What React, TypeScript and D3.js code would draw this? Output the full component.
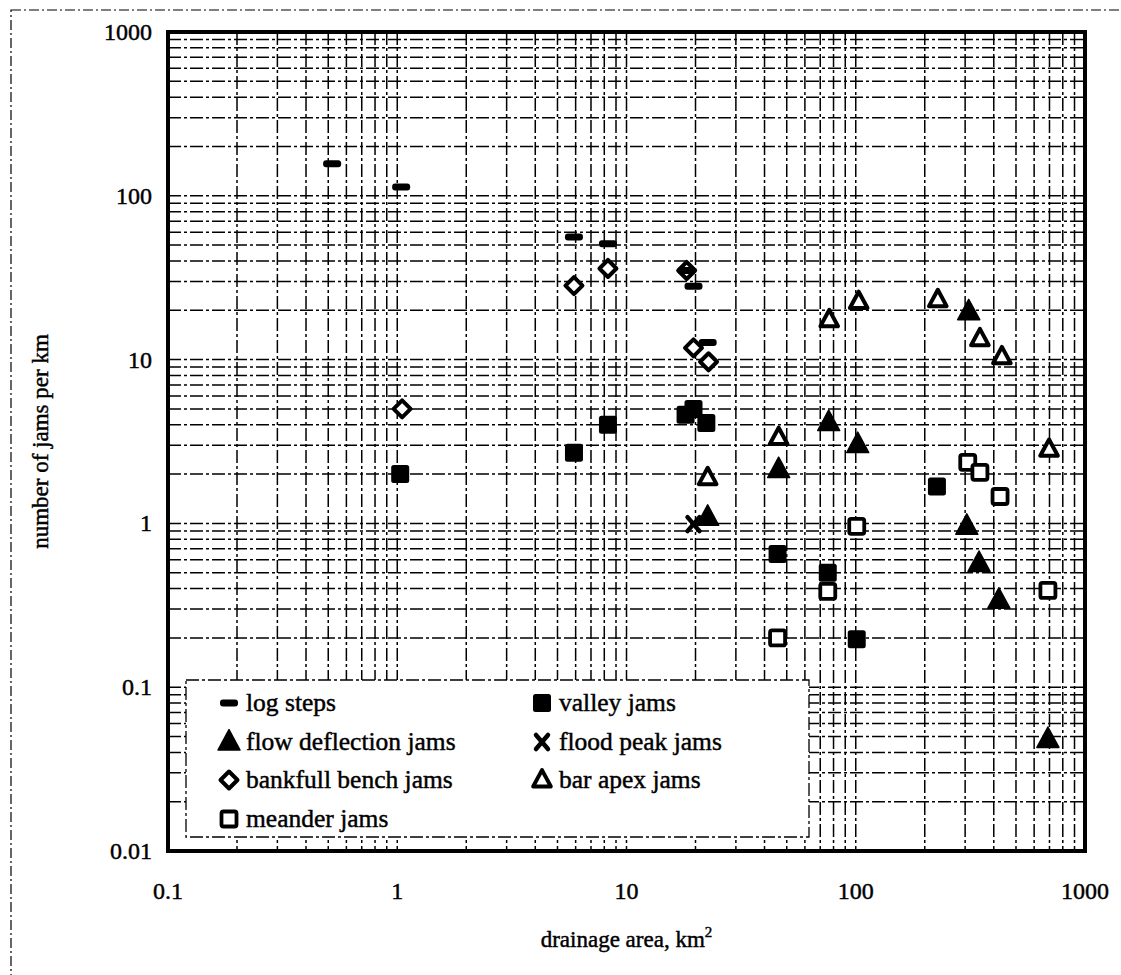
import React from 'react'
import * as d3 from 'd3'

// series (drainage area km2, jams per km)
const logStepsX = [0.52, 1.04, 5.9, 8.3, 18.3, 19.6, 22.6]
const logStepsY = [157, 113, 56, 51, 35, 28, 12.7]

const valleyX = [1.03, 5.9, 8.3, 18.1, 19.6, 22.3, 45.6, 75.5, 101, 226]
const valleyY = [2.0, 2.7, 4.0, 4.6, 5.0, 4.1, 0.65, 0.5, 0.196, 1.68]

const flowX = [22.6, 46.1, 76.2, 102, 311, 305, 345, 421, 689]
const flowY = [1.09, 2.13, 4.13, 3.03, 19.6, 0.96, 0.57, 0.34, 0.048]

const floodX = [19.6]
const floodY = [0.99]

const benchX = [1.05, 5.9, 8.3, 18.3, 19.6, 22.8]
const benchY = [5.0, 28.3, 36, 35, 11.8, 9.7]

const apexX = [22.6, 46.1, 76.6, 103, 228, 348, 434, 697]
const apexY = [1.9, 3.34, 17.5, 22.6, 23.2, 13.4, 10.4, 2.83]

const meanderX = [45.6, 75.5, 101, 308, 348, 426, 689]
const meanderY = [0.2, 0.385, 0.96, 2.36, 2.05, 1.46, 0.39]

const xTicks = [0.1, 1, 10, 100, 1000]
const yTicks = [0.01, 0.1, 1, 10, 100, 1000]
const xTickLabels = ['0.1', '1', '10', '100', '1000']
const yTickLabels = ['0.01', '0.1', '1', '10', '100', '1000']

const legendNames = ['log steps', 'valley jams', 'flow deflection jams', 'flood peak jams',
  'bankfull bench jams', 'bar apex jams', 'meander jams']

const W = 1121, H = 975
const margin = { left: 168, right: 1085, top: 32, bottom: 851 }
const font = '"Liberation Serif", "Times New Roman", Times, serif'
const dash = '13,3,3,3'

type Kind = 'step' | 'valley' | 'flow' | 'flood' | 'bench' | 'apex' | 'meander'

const Marker = ({ kind, x, y }: { kind: Kind, x: number, y: number }) => {
  const tri = (s: number) => `M${x},${y - s * 0.62} L${x + s * 0.55},${y + s * 0.4} L${x - s * 0.55},${y + s * 0.4} Z`
  switch (kind) {
    case 'step':
      return <rect x={x - 9} y={y - 3.5} width={18} height={7} rx={3} fill="#000" />
    case 'valley':
      return <rect x={x - 9} y={y - 9} width={18} height={18} rx={2.5} fill="#000" />
    case 'flow':
      return <path d={tri(20)} fill="#000" stroke="#000" strokeWidth={1.5} strokeLinejoin="round" />
    case 'apex':
      return <path d={tri(16)} fill="#fff" stroke="#000" strokeWidth={4} strokeLinejoin="round" />
    case 'bench':
      return <path d={`M${x},${y - 8.5} L${x + 8.5},${y} L${x},${y + 8.5} L${x - 8.5},${y} Z`}
        fill="#fff" stroke="#000" strokeWidth={4} strokeLinejoin="round" />
    case 'meander':
      return <rect x={x - 7.5} y={y - 7.5} width={15} height={15} rx={2} fill="#fff" stroke="#000" strokeWidth={3.8} />
    case 'flood':
      return <g stroke="#000" strokeWidth={4.5} strokeLinecap="round">
        <line x1={x - 6} y1={y - 7} x2={x + 6} y2={y + 7} />
        <line x1={x + 6} y1={y - 7} x2={x - 6} y2={y + 7} />
      </g>
  }
  return null
}

export default function App() {
  const x = d3.scaleLog().domain([0.1, 1000]).range([margin.left, margin.right])
  const y = d3.scaleLog().domain([0.01, 1000]).range([margin.bottom, margin.top])

  // every 1..9 multiple inside the decades
  const xGrid: number[] = []
  for (let e = -1; e < 3; e++) for (let m = 1; m < 10; m++) xGrid.push(m * Math.pow(10, e))
  const yGrid: number[] = []
  for (let e = -2; e < 3; e++) for (let m = 1; m < 10; m++) yGrid.push(m * Math.pow(10, e))

  const series: { kind: Kind, xs: number[], ys: number[] }[] = [
    { kind: 'bench', xs: benchX, ys: benchY },
    { kind: 'step', xs: logStepsX, ys: logStepsY },
    { kind: 'valley', xs: valleyX, ys: valleyY },
    { kind: 'meander', xs: meanderX, ys: meanderY },
    { kind: 'apex', xs: apexX, ys: apexY },
    { kind: 'flow', xs: flowX, ys: flowY },
    { kind: 'flood', xs: floodX, ys: floodY },
  ]

  const legendKinds: Kind[] = ['step', 'valley', 'flow', 'flood', 'bench', 'apex', 'meander']
  const legendCols = [229, 542]
  const legendRows = [703, 742, 780, 819]
  const txt = { fontFamily: font, fill: '#000', stroke: '#000', strokeWidth: 0.45 }

  return (
    <svg width={W} height={H} style={{ position: 'absolute', left: 0, top: 0, background: '#fff' }}>
      <rect x={11} y={10} width={W + 10} height={H + 10} fill="none" stroke="#000" strokeWidth={1.2} strokeDasharray="10,3,2,3" />

      {/* grid */}
      <g stroke="#000" strokeWidth={1.5} strokeDasharray={dash}>
        {xGrid.map((v, i) => <line key={'gx' + i} x1={x(v)} x2={x(v)} y1={margin.top} y2={margin.bottom} />)}
        {yGrid.map((v, i) => <line key={'gy' + i} x1={margin.left} x2={margin.right} y1={y(v)} y2={y(v)} />)}
      </g>

      {/* legend box */}
      <rect x={186} y={680} width={623} height={157} fill="#fff" stroke="#000" strokeWidth={1.3} strokeDasharray={dash} />
      {legendNames.map((name, i) => {
        const cx = legendCols[i % 2]
        const cy = legendRows[Math.floor(i / 2)]
        return <g key={name}>
          <Marker kind={legendKinds[i]} x={cx} y={cy} />
          <text x={cx + 17} y={cy + 8} fontSize={25.5} {...txt}>{name}</text>
        </g>
      })}

      {/* points */}
      {series.map(s => s.xs.map((v, i) =>
        <Marker key={s.kind + i} kind={s.kind} x={x(v)} y={y(s.ys[i])} />))}

      <rect x={margin.left} y={margin.top} width={margin.right - margin.left} height={margin.bottom - margin.top}
        fill="none" stroke="#000" strokeWidth={4} />

      {/* tick labels */}
      {xTicks.map((v, i) =>
        <text key={'xt' + i} x={x(v)} y={margin.bottom + 48} textAnchor="middle" fontSize={24} {...txt}>{xTickLabels[i]}</text>)}
      {yTicks.map((v, i) =>
        <text key={'yt' + i} x={margin.left - 16} y={y(v) + 8} textAnchor="end" fontSize={24} {...txt}>{yTickLabels[i]}</text>)}

      <text x={(margin.left + margin.right) / 2} y={947} textAnchor="middle" fontSize={23} {...txt}>
        drainage area, km<tspan dy={-10} fontSize={15}>2</tspan>
      </text>
      <text transform={`translate(48,${(margin.top + margin.bottom) / 2}) rotate(-90)`} textAnchor="middle"
        fontSize={23} {...txt}>number of jams per km</text>
    </svg>
  )
}
